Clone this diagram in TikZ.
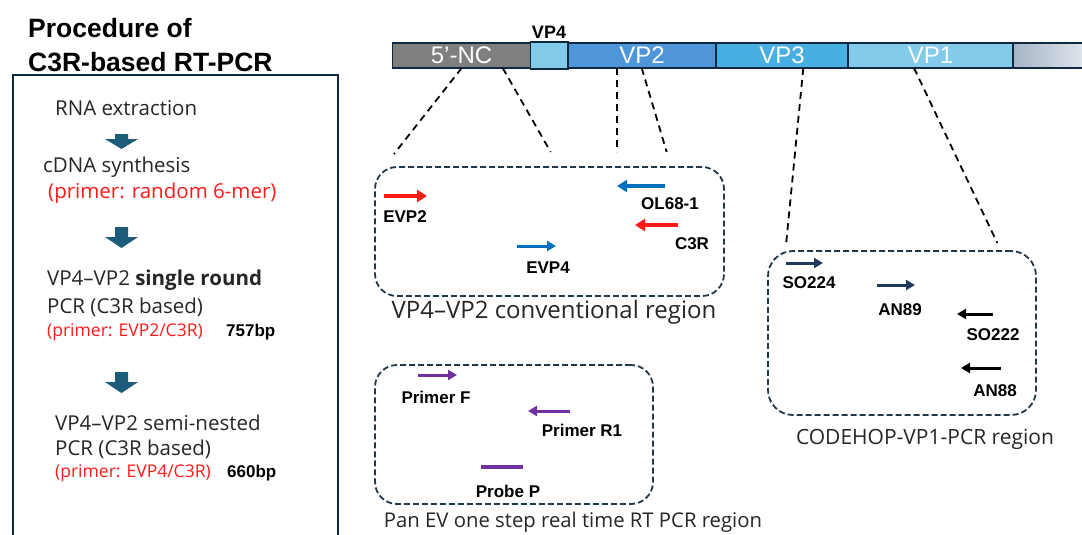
\documentclass[tikz,border=0pt]{standalone}
\usepackage{fontspec}
\setmainfont{Open Sans}
\newfontfamily\arialfont{Liberation Sans}
\usetikzlibrary{arrows.meta,positioning}
\definecolor{ncgray}{HTML}{7F7F7F}
\definecolor{vpfour}{HTML}{83CBEB}
\definecolor{vptwo}{HTML}{4E95D9}
\definecolor{vpthree}{HTML}{45B0E1}
\definecolor{vpone}{HTML}{83CBEB}
\definecolor{tailleft}{HTML}{A6B4C6}
\definecolor{tailright}{HTML}{DEE4EB}
\definecolor{barline}{HTML}{0E2841}
\definecolor{boxline}{HTML}{203848}
\definecolor{pcrred}{HTML}{FF1A1A}
\definecolor{primblue}{HTML}{0070C0}
\definecolor{primnavy}{HTML}{1F3A5F}
\definecolor{primpurple}{HTML}{7030A0}
\definecolor{flowblue}{HTML}{1D5C79}
\tikzset{
  seg/.style={draw=barline, line width=1.5pt, minimum height=25pt, inner sep=0pt,
    text=white, font=\arialfont\fontsize{24}{24}\selectfont},
  zoomline/.style={dash pattern=on 7pt off 5pt, line width=1.8pt},
  region/.style={draw=boxline, dash pattern=on 6pt off 3pt, line width=1.8pt,
    rounded corners=22pt, inner sep=0pt},
  regionlabel/.style={inner sep=0pt, text=black!85},
  primer/.style={line width=3.5pt, -{Triangle[length=10pt,width=12pt]}},
  plabel/.style={inner sep=0pt, font=\arialfont\bfseries\fontsize{17}{18}\selectfont},
  proctext/.style={anchor=west, inner sep=0pt, text=black!85, font=\fontsize{20.5}{22}\selectfont},
  redtext/.style={proctext, text=pcrred},
  bpsize/.style={anchor=west, inner sep=0pt, font=\arialfont\bfseries\fontsize{17}{18}\selectfont},
}
\begin{document}
\begin{tikzpicture}[x=1pt,y=-1pt]
\useasboundingbox (0,0) rectangle (1082,535);
%% left panel: procedure
\node (title1) at (28,28) [anchor=west, inner sep=0pt, font=\arialfont\bfseries\fontsize{26.5}{28}\selectfont] {Procedure of};
\node (title2) at (28,62) [anchor=west, inner sep=0pt, font=\arialfont\bfseries\fontsize{26.5}{28}\selectfont] {C3R-based RT-PCR};
\draw [draw=barline, line width=2pt] (13,545) -- (13,75) -- (338,75) -- (338,545);
\node (rna) at (55,108) [proctext] {RNA extraction};
\node (cdna) at (43,167) [proctext] {cDNA synthesis};
\node (rand) at (48,193) [redtext] {(primer: random 6-mer)};
\node (single) at (47,280) [proctext] {VP4--VP2 \textbf{single round}};
\node (singlepcr) at (47,307) [proctext] {PCR (C3R based)};
\node (singleprim) at (47,332) [redtext, font=\fontsize{17.5}{19}\selectfont] {(primer: EVP2/C3R)};
\node (singlebp) at (226,332) [bpsize] {757bp};
\node (semi) at (55,423) [proctext] {VP4--VP2 semi-nested};
\node (semipcr) at (55,449) [proctext] {PCR (C3R based)};
\node (semiprim) at (55,473) [redtext, font=\fontsize{17.5}{19}\selectfont] {(primer: EVP4/C3R)};
\node (semibp) at (227,473) [bpsize] {660bp};
\foreach \yt/\yh/\yb in {134/139/149, 227/237/248, 372/382/393}
  \fill [flowblue] (115,\yt) -- (128,\yt) -- (128,\yh) -- (138,\yh) -- (121.5,\yb)
    -- (105,\yh) -- (115,\yh) -- cycle;
%% genome bar
\node (nc) at (461.5,55.5) [seg, fill=ncgray, minimum width=138pt] {5’-NC};
\node (vp2) at (642,55.5) [seg, fill=vptwo, minimum width=148pt] {VP2};
\node (vp3) at (782,55.5) [seg, fill=vpthree, minimum width=132pt] {VP3};
\node (vp1) at (930.5,55.5) [seg, fill=vpone, minimum width=165pt] {VP1};
\node (tail) at (1048,55.5) [seg, left color=tailleft, right color=tailright, minimum width=70pt] {};
\node (vp4) at (549.25,55.5) [seg, fill=vpfour, minimum width=37.5pt, minimum height=26.5pt, line width=1.8pt] {};
\node (vp4lbl) at (549,32) [plabel, font=\arialfont\bfseries\fontsize{18}{20}\selectfont] {VP4};
%% zoom lines
\coordinate (za) at (461.7,68);  \coordinate (zb) at (394,154);
\coordinate (zc) at (502.7,68);  \coordinate (zd) at (550.7,152);
\coordinate (ze) at (616.7,68);  \coordinate (zf) at (616.7,152);
\coordinate (zg) at (641.7,68);  \coordinate (zh) at (666.7,152);
\coordinate (zi) at (803.3,68);  \coordinate (zj) at (786,245);
\coordinate (zk) at (914,68);    \coordinate (zl) at (997.3,243);
\draw [zoomline] (za) -- (zb);
\draw [zoomline] (zc) -- (zd);
\draw [zoomline] (ze) -- (zf);
\draw [zoomline] (zg) -- (zh);
\draw [zoomline] (zi) -- (zj);
\draw [zoomline] (zk) -- (zl);
%% VP4-VP2 conventional region
\node (convbox) at (549.5,231.5) [region, minimum width=349pt, minimum height=129pt] {};
\node (convlbl) at (554,312) [regionlabel, font=\fontsize{24}{26}\selectfont] {VP4--VP2 conventional region};
\draw [primer, pcrred] (384,196) -- (427,196);
\node (evp2) at (405,217) [plabel] {EVP2};
\draw [primer, primblue] (665,186) -- (617,186);
\node (ol68) at (670,204) [plabel] {OL68-1};
\draw [primer, pcrred] (678,225) -- (635,225);
\node (c3r) at (692,244) [plabel] {C3R};
\draw [primer, primblue, line width=3pt, -{Triangle[length=9pt,width=10pt]}] (517,246) -- (556,246);
\node (evp4) at (548,268) [plabel] {EVP4};
%% CODEHOP region
\node (codebox) at (902,333) [region, minimum width=268pt, minimum height=164pt, rounded corners=25pt] {};
\node (codelbl) at (925,439) [regionlabel, font=\fontsize{21}{23}\selectfont] {CODEHOP-VP1-PCR region};
\draw [primer, primnavy, line width=3pt, -{Triangle[length=9pt,width=10pt]}] (786,263) -- (823,263);
\node (so224) at (809,283) [plabel] {SO224};
\draw [primer, primnavy, line width=3pt, -{Triangle[length=9pt,width=10pt]}] (877,285) -- (915,285);
\node (an89) at (900,310) [plabel] {AN89};
\draw [primer, black, line width=3pt, -{Triangle[length=9pt,width=10pt]}] (993,314) -- (957,314);
\node (so222) at (993,335) [plabel] {SO222};
\draw [primer, black, line width=3pt, -{Triangle[length=9pt,width=10pt]}] (1001,368) -- (961,368);
\node (an88) at (995,391) [plabel] {AN88};
%% Pan EV real time region
\node (panbox) at (514,434.5) [region, minimum width=278pt, minimum height=139pt] {};
\node (panlbl) at (573,522) [regionlabel, font=\fontsize{20.3}{22}\selectfont] {Pan EV one step real time RT PCR region};
\draw [primer, primpurple, line width=3pt, -{Triangle[length=9pt,width=10pt]}] (418,375) -- (457,375);
\node (primf) at (436,397) [plabel] {Primer F};
\draw [primer, primpurple, line width=3pt, -{Triangle[length=9pt,width=10pt]}] (570,411) -- (528,411);
\node (primr) at (582,430) [plabel] {Primer R1};
\draw [primpurple, line width=3.5pt] (481,467) -- (523,467);
\node (probe) at (508,491) [plabel] {Probe P};
%
\end{tikzpicture}
\end{document}
